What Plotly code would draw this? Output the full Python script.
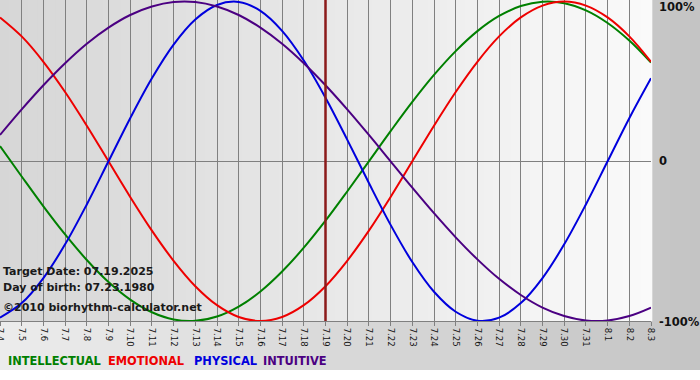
import plotly.graph_objects as go

# ---- data ----
dates = ["7.4", "7.5", "7.6", "7.7", "7.8", "7.9", "7.10", "7.11", "7.12", "7.13",
         "7.14", "7.15", "7.16", "7.17", "7.18", "7.19", "7.20", "7.21", "7.22", "7.23",
         "7.24", "7.25", "7.26", "7.27", "7.28", "7.29", "7.30", "7.31", "8.1", "8.2", "8.3"]

intellectual = [9.5, -9.5, -28.2, -45.8, -61.8, -75.6, -86.6, -94.5, -99.0, -99.9,
                -97.2, -91.0, -81.5, -69.0, -54.1, -37.2, -18.9, 0.0, 18.9, 37.2,
                54.1, 69.0, 81.5, 91.0, 97.2, 99.9, 99.0, 94.5, 86.6, 75.6, 61.8]

emotional = [90.1, 78.2, 62.3, 43.4, 22.3, 0.0, -22.3, -43.4, -62.3, -78.2,
             -90.1, -97.5, -100.0, -97.5, -90.1, -78.2, -62.3, -43.4, -22.3, 0.0,
             22.3, 43.4, 62.3, 78.2, 90.1, 97.5, 100.0, 97.5, 90.1, 78.2, 62.3]

physical = [-97.9, -88.8, -73.1, -52.0, -27.0, 0.0, 27.0, 52.0, 73.1, 88.8,
            97.9, 99.8, 94.2, 81.7, 63.1, 39.8, 13.6, -13.6, -39.8, -63.1,
            -81.7, -94.2, -99.8, -97.9, -88.8, -73.1, -52.0, -27.0, 0.0, 27.0, 52.0]

intuitive = [16.5, 32.5, 47.6, 61.4, 73.6, 83.7, 91.6, 96.9, 99.7, 99.7,
             96.9, 91.6, 83.7, 73.6, 61.4, 47.6, 32.5, 16.5, 0.0, -16.5,
             -32.5, -47.6, -61.4, -73.6, -83.7, -91.6, -96.9, -99.7, -99.7, -96.9, -91.6]

series_names = ["INTELLECTUAL", "EMOTIONAL", "PHYSICAL", "INTUITIVE"]
y_tick_vals = [100, 0, -100]
y_tick_text = ["100%", "0", "-100%"]
target_label = "7.19"
info_lines = ["Target Date: 07.19.2025", "Day of birth: 07.23.1980",
              "\u00a92010 biorhythm-calculator.net"]

# ---- styling ----
colors = ["#008000", "#ee0000", "#0000dd", "#4b0082"]
W, H = 700, 380
ML, MR, MT, MB = 0, 49, 0, 59
PW, PH = W - ML - MR, H - MT - MB


def px2x(px):
    return (px - ML) / PW


def px2y(py):
    return (MT + PH - py) / PH


fig = go.Figure()
for name, vals, col in zip(series_names, [intellectual, emotional, physical, intuitive], colors):
    fig.add_trace(go.Scatter(x=dates, y=vals, mode="lines", name=name,
                             line=dict(color=col, width=2, shape="spline", smoothing=1.0),
                             hoverinfo="skip", showlegend=False))

shapes = []
# outer background gradient (light left -> darker right)
N = 70
for i in range(N):
    f = (i + 0.5) / N
    c = int(round(236 + (196 - 236) * f))
    shapes.append(dict(type="rect", xref="paper", yref="paper",
                       x0=px2x(i * W / N), x1=px2x((i + 1) * W / N + 0.5),
                       y0=px2y(370), y1=1.0,
                       fillcolor=f"rgb({c},{c},{c})", line=dict(width=0), layer="below"))
# plot area gradient (darker left -> light right)
for i in range(N):
    f = (i + 0.5) / N
    c = int(round(214 + (250 - 214) * f))
    shapes.append(dict(type="rect", xref="paper", yref="paper",
                       x0=i / N, x1=(i + 1) / N + 0.002, y0=0, y1=1,
                       fillcolor=f"rgb({c},{c},{c})", line=dict(width=0), layer="below"))
# target date line
ti = dates.index(target_label)
shapes.append(dict(type="line", xref="x", yref="paper", x0=ti, x1=ti, y0=0, y1=1,
                   line=dict(color="#8b1a1a", width=2.5), layer="above"))

annotations = []
ypos = {100: 7, 0: 161, -100: 322}
for v, t in zip(y_tick_vals, y_tick_text):
    annotations.append(dict(xref="paper", yref="paper", x=px2x(658), y=px2y(ypos[v]),
                            text=f"<b>{t}</b>", showarrow=False, xanchor="left", yanchor="middle",
                            font=dict(family="DejaVu Sans", size=11.5, color="#111111"),
                            borderpad=0))
for k, (t, py) in enumerate(zip(info_lines, [271, 287, 307])):
    annotations.append(dict(xref="paper", yref="paper", x=px2x(2), y=px2y(py),
                            text=f"<b>{t}</b>", showarrow=False, xanchor="left", yanchor="middle",
                            font=dict(family="DejaVu Sans", size=11, color="#1a1a1a"),
                            borderpad=0))
for name, col, lx in zip(series_names, colors, [7, 107, 193, 262]):
    annotations.append(dict(xref="paper", yref="paper", x=px2x(lx), y=px2y(361),
                            text=f"<b>{name}</b>", showarrow=False, xanchor="left", yanchor="middle",
                            font=dict(family="DejaVu Sans", size=11.4, color=col),
                            borderpad=0))

fig.update_layout(
    width=W, height=H,
    margin=dict(l=ML, r=MR, t=MT, b=MB, pad=0),
    paper_bgcolor="white", plot_bgcolor="rgba(0,0,0,0)",
    shapes=shapes, annotations=annotations, showlegend=False,
    xaxis=dict(type="category", range=[0, len(dates) - 1], showgrid=True,
               gridcolor="#808080", gridwidth=1, tickangle=90,
               ticks="outside", ticklen=4, tickcolor="#808080",
               showline=True, linecolor="#808080", linewidth=1,
               tickfont=dict(family="DejaVu Sans", size=8.5, color="#151515"),
               automargin=False, zeroline=False, fixedrange=True),
    yaxis=dict(range=[-100, 101], showgrid=False, zeroline=True, zerolinecolor="#808080",
               zerolinewidth=1, showticklabels=False, ticks="", showline=False,
               automargin=False, fixedrange=True),
)

fig.write_html("out.html", config={"displayModeBar": False, "staticPlot": True},
               post_script="document.body.style.margin='0';document.body.style.overflow='hidden';")
